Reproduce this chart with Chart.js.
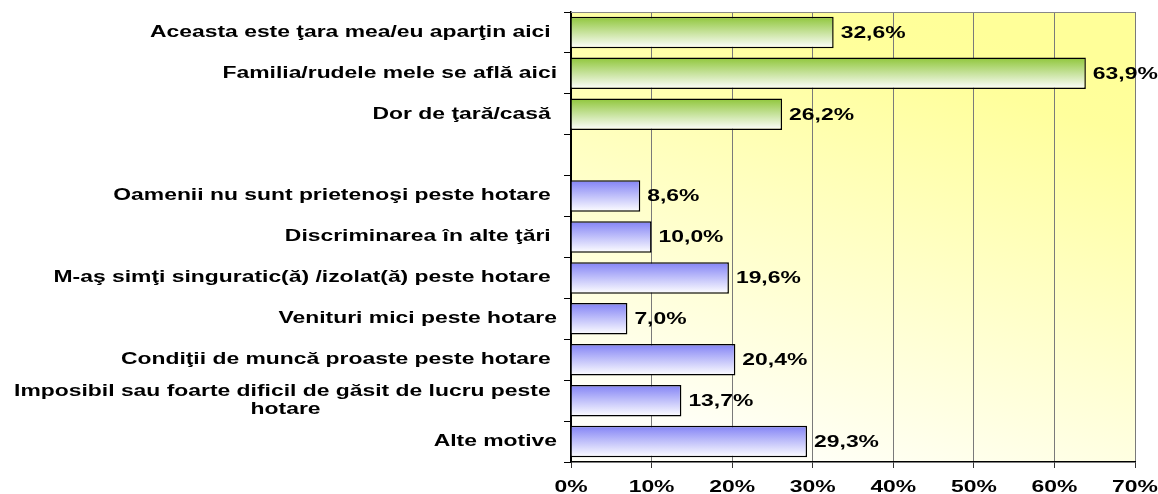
<!DOCTYPE html>
<html>
<head>
<meta charset="utf-8">
<script src="https://cdn.jsdelivr.net/npm/chart.js@4.4.1/dist/chart.umd.min.js"></script>
<style>
html, body { margin: 0; padding: 0; background: #fff; }
#wrap { width: 1158px; height: 494px; }
</style>
</head>
<body>
<div id="wrap"><canvas id="motive" width="1158" height="494"></canvas></div>
<script>
// categorii (randul gol separa cele doua grupuri)
const categories = [
    'Aceasta este ţara mea/eu aparţin aici ',
    'Familia/rudele mele se află aici',
    'Dor de ţară/casă ',
    '',
    'Oamenii nu sunt prietenoşi peste hotare ',
    'Discriminarea în alte ţări ',
    'M-aş simţi singuratic(ă) /izolat(ă) peste hotare ',
    'Venituri mici peste hotare',
    'Condiţii de muncă proaste peste hotare ',
    ['Imposibil sau foarte dificil de găsit de lucru peste ', 'hotare'],
    'Alte motive'
];
const values = [32.6, 63.9, 26.2, null, 8.6, 10.0, 19.6, 7.0, 20.4, 13.7, 29.3];
const groups = ['acasa', 'acasa', 'acasa', null, 'peste', 'peste', 'peste', 'peste', 'peste', 'peste', 'peste'];
const xTickValues = [0, 10, 20, 30, 40, 50, 60, 70];

const FONT = 'bold 16px "Liberation Sans", Arial, sans-serif';
const STRETCH = 1.43;
const BAR_PCT = 0.77;

function drawStretched(c, text, x, y, align) {
    c.save();
    c.translate(x, y);
    c.scale(STRETCH, 1);
    c.textAlign = align;
    c.fillText(text, 0, 0);
    c.restore();
}

function formatPct(v) {
    return v.toFixed(1).replace('.', ',') + '%';
}

const plotBackground = {
    id: 'plotBackground',
    beforeDraw(chart) {
        const a = chart.chartArea;
        const c = chart.ctx;
        const g = c.createLinearGradient(a.left + a.width * 0.62, a.top, a.left + a.width * 0.38, a.bottom);
        g.addColorStop(0, '#FFFF99');
        g.addColorStop(0.12, '#FFFF9C');
        g.addColorStop(1, '#FFFFF8');
        c.save();
        c.fillStyle = g;
        c.fillRect(a.left, a.top, a.width, a.height);
        c.restore();
    },
    afterDraw(chart) {
        const a = chart.chartArea;
        const c = chart.ctx;
        c.save();
        c.strokeStyle = '#888';
        c.lineWidth = 1;
        c.beginPath();
        c.moveTo(a.left, a.top + 0.5);
        c.lineTo(a.right, a.top + 0.5);
        c.stroke();
        c.restore();
    }
};

const textLabels = {
    id: 'textLabels',
    afterDraw(chart) {
        const c = chart.ctx;
        const xs = chart.scales.x;
        const ys = chart.scales.y;
        c.save();
        c.font = FONT;
        c.fillStyle = '#000';
        c.textBaseline = 'middle';

        // etichete categorii
        const labelRight = chart.chartArea.left - 14;
        categories.forEach((label, i) => {
            const lines = Array.isArray(label) ? label : [label];
            if (!lines[0]) return;
            const center = ys.getPixelForValue(i);
            const maxW = Math.max(...lines.map(l => c.measureText(l).width * STRETCH));
            lines.forEach((line, j) => {
                const y = center + (j - (lines.length - 1) / 2) * 18;
                drawStretched(c, line, labelRight - maxW / 2, y, 'center');
            });
        });

        // valori
        chart.getDatasetMeta(0).data.forEach((bar, i) => {
            if (values[i] == null) return;
            drawStretched(c, formatPct(values[i]), bar.x + 7, bar.y + 1, 'left');
        });

        // axa x
        xs.ticks.forEach(t => {
            drawStretched(c, t.value + '%', xs.getPixelForValue(t.value), xs.top + 26, 'center');
        });
        c.restore();
    }
};

new Chart(
    'motive',
    {
        type: 'bar',
        data: {
            labels: categories,
            datasets: [{
                data: values,
                backgroundColor: (ctx) => {
                    const chart = ctx.chart;
                    const ys = chart.scales.y;
                    const top = groups[ctx.dataIndex] === 'acasa' ? '#8FC63A' : '#8282F5';
                    if (!ys || !chart.chartArea) return top;
                    const center = ys.getPixelForValue(ctx.dataIndex);
                    const half = ys.height / categories.length * BAR_PCT / 2;
                    const g = chart.ctx.createLinearGradient(0, center - half, 0, center + half);
                    g.addColorStop(0, top);
                    g.addColorStop(1, '#FFFFFF');
                    return g;
                },
                borderColor: '#000',
                borderWidth: 1.5,
                barPercentage: BAR_PCT,
                categoryPercentage: 1
            }]
        },
        options: {
            indexAxis: 'y',
            responsive: false,
            animation: false,
            devicePixelRatio: 1,
            layout: {
                padding: { top: 12, right: 23, left: 0, bottom: 0 }
            },
            scales: {
                x: {
                    type: 'linear',
                    min: 0,
                    max: 70,
                    afterBuildTicks: (scale) => {
                        scale.ticks = xTickValues.map(v => ({ value: v }));
                    },
                    afterFit: (scale) => { scale.height = 32; },
                    ticks: { display: false },
                    grid: {
                        color: (ctx) => (ctx.tick && ctx.tick.value === 0) ? '#000' : '#7a7a7a',
                        lineWidth: 1,
                        tickLength: 6,
                        tickColor: '#333'
                    },
                    border: { color: '#000', width: 1.5 }
                },
                y: {
                    type: 'category',
                    afterFit: (scale) => { scale.width = 571; },
                    ticks: { display: false },
                    grid: {
                        drawOnChartArea: false,
                        color: '#000',
                        tickLength: 7,
                        offset: true
                    },
                    border: { color: '#000', width: 1.5 }
                }
            },
            plugins: {
                legend: { display: false },
                tooltip: { enabled: false }
            }
        },
        plugins: [plotBackground, textLabels]
    }
);
</script>
</body>
</html>
